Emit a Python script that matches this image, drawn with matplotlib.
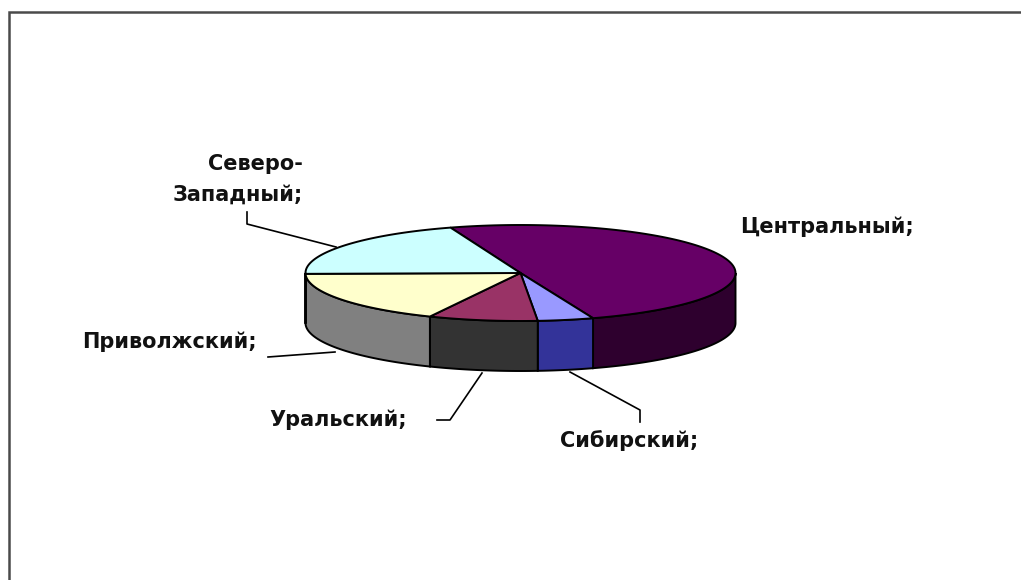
"""3D-look pie of federal districts, drawn as flat polygons in pixel space."""
import numpy as np
import matplotlib
matplotlib.use("Agg")
import matplotlib.pyplot as plt
from matplotlib.patches import Polygon

# slices run clockwise from the start angle
districts = ["Центральный", "Сибирский", "Уральский", "Приволжский", "Северо-Западный"]
shares = [49.8, 4.2, 8.2, 17.8, 20.0]
top_colors = ["#660066", "#9999FF", "#993366", "#FFFFCC", "#CCFFFF"]
side_colors = ["#2E002E", "#333399", "#333333", "#808080", "#808080"]

START = 109.0
CX, CY, RX, RY, DEPTH = 520.5, 273.0, 215.0, 48.0, 50.0
FS = 15


def arc(t0, t1, dy=0.0):
    t = np.radians(np.linspace(t0, t1, 120))
    return np.column_stack([CX + RX * np.cos(t), CY + dy - RY * np.sin(t)])


fig = plt.figure(figsize=(10.21, 5.8), dpi=100)
ax = fig.add_axes([0, 0, 1, 1])
ax.set_xlim(0, 1021); ax.set_ylim(580, 0); ax.axis("off")

# chart frame, runs off the right and bottom of the picture
ax.plot([9, 9, 1021], [580, 12, 12], color="#4A4A4A", lw=1.8, solid_joinstyle="miter")

sweeps = np.array(shares) / sum(shares) * 360.0
ends = START - np.cumsum(sweeps)
starts = ends + sweeps

# rim first: only the part of each slice on the front half (180..360 deg) shows
for a0, a1, col in zip(starts, ends, side_colors):
    lo, hi = a1 + 360, a0 + 360
    lo_v, hi_v = max(lo, 180), min(hi, 360)
    if lo_v < hi_v:
        top = arc(hi_v, lo_v)
        bot = arc(lo_v, hi_v, DEPTH)
        ax.add_patch(Polygon(np.vstack([top, bot]), closed=True, fc=col, ec="black", lw=1.4, zorder=2))

# lid
for a0, a1, col in zip(starts, ends, top_colors):
    pts = np.vstack([[CX, CY], arc(a0, a1)])
    ax.add_patch(Polygon(pts, closed=True, fc=col, ec="black", lw=1.4, zorder=3))

# leader lines
leaders = [
    ([247, 247, 336], [212, 224, 247]),
    ([268, 335], [357, 352]),
    ([437, 450, 482], [420, 420, 373]),
    ([570, 640, 640], [372, 410, 422]),
]
for xs, ys in leaders:
    ax.plot(xs, ys, color="black", lw=1.2, zorder=1)

# labels keep Excel's "name;" form, with the long one wrapped
label_text = {d: d + ";" for d in districts}
label_text["Северо-Западный"] = "Северо-\nЗападный;"
label_pos = {
    "Центральный": (826.5, 227),
    "Сибирский": (629, 441),
    "Уральский": (338.5, 420),
    "Приволжский": (169.5, 342),
    "Северо-Западный": (238, 179),
}
for d in districts:
    x, y = label_pos[d]
    ax.text(x, y, label_text[d], ha="center", va="center", multialignment="right", fontsize=FS,
            fontweight="bold", family="DejaVu Sans", color="#111111", linespacing=1.65)

fig.savefig("out.png", dpi=100)
